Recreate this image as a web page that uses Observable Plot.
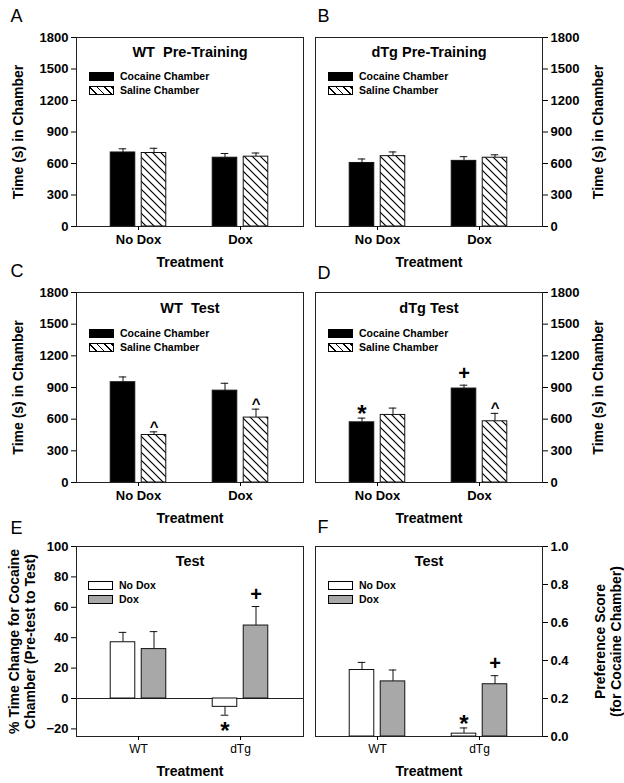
<!DOCTYPE html>
<html><head><meta charset="utf-8">
<script src="https://cdn.jsdelivr.net/npm/d3@7"></script>
<script src="https://cdn.jsdelivr.net/npm/@observablehq/plot@0.6"></script>
<style>
body{margin:0;background:#fff;}
#root{position:relative;width:624px;height:783px;font-family:"Liberation Sans",Arial,sans-serif;background:#fff;overflow:hidden;}
.panel{position:absolute;}
.legend{position:absolute;font-weight:bold;font-size:10.5px;color:#000;line-height:1;}
.legend .row{display:flex;align-items:center;height:14px;}
.sw{width:25px;height:9px;border:1px solid #000;margin-right:6px;box-sizing:border-box;}
.sw.hatch{background:repeating-linear-gradient(45deg,#fff 0px,#fff 4px,#000 4px,#000 5.2px);}
</style></head><body><div id="root"></div><script>
// ---------- data ----------
const treatments = ["No Dox", "Dox"];
const genotypes = ["WT", "dTg"];
const timeTicks = [0, 300, 600, 900, 1200, 1500, 1800];
const pctTicks = [-20, 0, 20, 40, 60, 80, 100];
const prefTicks = [0, 0.2, 0.4, 0.6, 0.8, 1.0];
const chamberLegend = ["Cocaine Chamber", "Saline Chamber"];
const doxLegend = ["No Dox", "Dox"];

// A: WT Pre-Training
const aCocaine = [705, 655], aCocaineSem = [35, 40];
const aSaline = [700, 665], aSalineSem = [45, 35];
// B: dTg Pre-Training
const bCocaine = [605, 625], bCocaineSem = [38, 40];
const bSaline = [670, 655], bSalineSem = [40, 28];
// C: WT Test
const cCocaine = [950, 870], cCocaineSem = [50, 70];
const cSaline = [450, 615], cSalineSem = [30, 80];
// D: dTg Test
const dCocaine = [570, 890], dCocaineSem = [40, 32];
const dSaline = [640, 580], dSalineSem = [65, 75];
// E: % time change (Test)
const eNoDox = [37, -5.5], eNoDoxSem = [6.5, 5.5];
const eDox = [32.5, 48], eDoxSem = [11.5, 12.5];
// F: preference score (Test)
const fNoDox = [0.35, 0.015], fNoDoxSem = [0.04, 0.03];
const fDox = [0.29, 0.275], fDoxSem = [0.06, 0.045];

// significance marks: [series index, category, symbol]
const cMarks = [[1, "No Dox", "^"], [1, "Dox", "^"]];
const dMarks = [[0, "No Dox", "*"], [0, "Dox", "+"], [1, "Dox", "^"]];
const eMarks = [[0, "dTg", "*"], [1, "dTg", "+"]];
const fMarks = [[0, "dTg", "*"], [1, "dTg", "+"]];

// ---------- drawing ----------
const root = document.getElementById("root");
const FONT = "Liberation Sans, Arial, sans-serif";
const FRAMEW = 227, PAD = 0.215;
const BW = FRAMEW / (2 - PAD + 2 * PAD) * (1 - PAD);
const CENTERS = [BW / 2 - 15.5, BW / 2 + 15.5];
const symStyle = {"^": {fontSize: 15, up: -5, down: 12}, "*": {fontSize: 24, up: -4, down: 16}, "+": {fontSize: 20, up: -12, down: 12}};

function panel(cfg) {
  const pid = "hatch-" + cfg.letter;
  const marks = [];
  if (cfg.zero) marks.push(Plot.ruleY([0], {stroke: "#222"}));
  const tables = cfg.series.map((s) => cfg.cats.map((c, j) => ({
    cat: c, v: s.values[j], tip: s.values[j] + (s.values[j] < 0 ? -1 : 1) * s.errs[j]
  })));
  cfg.series.forEach((s, i) => {
    const rows = tables[i], c = CENTERS[i];
    const fill = s.fill === "hatch" ? `url(#${pid})` : s.fill;
    marks.push(Plot.ruleX(rows, {x: "cat", y1: "v", y2: "tip", dx: c - BW / 2, stroke: "#111", strokeWidth: 1}));
    marks.push(Plot.tickY(rows, {x: "cat", y: "tip", insetLeft: c - 4, insetRight: BW - c - 4, stroke: "#111", strokeWidth: 1}));
    marks.push(Plot.barY(rows, {x: "cat", y: "v", fill, stroke: "#111", strokeWidth: 1, insetLeft: c - 12.5, insetRight: BW - c - 12.5}));
  });
  (cfg.sig || []).forEach(([si, cat, sym]) => {
    const row = tables[si].find((r) => r.cat === cat);
    const st = symStyle[sym];
    marks.push(Plot.text([row], {x: "cat", y: "tip", text: () => sym, dx: CENTERS[si] - BW / 2,
      dy: row.v < 0 ? st.down : st.up, fontSize: st.fontSize, fontWeight: "bold", lineAnchor: "middle"}));
  });
  marks.push(Plot.frame({stroke: "#222", strokeWidth: 1}));
  marks.push(Plot.axisY({anchor: cfg.side, ticks: cfg.yTicks, tickFormat: cfg.fmt, tickSize: 5, tickPadding: 3, label: null, fontSize: 13, fontWeight: "bold"}));
  marks.push(Plot.axisX({anchor: "bottom", tickSize: 4, tickPadding: 4, label: null, fontSize: cfg.xFontSize || 13, fontWeight: cfg.xWeight || "bold"}));
  marks.push(Plot.text([cfg.title], {text: (d) => d, frameAnchor: "top", dy: cfg.titleDy, lineAnchor: "middle", fontSize: 14.5, fontWeight: "bold"}));
  marks.push(Plot.text([cfg.letter], {text: (d) => d, frameAnchor: "top-left", dx: cfg.letterDx, dy: cfg.letterDy, textAnchor: "start", lineAnchor: "middle", fontSize: 18, fontWeight: "normal"}));
  marks.push(Plot.text(["Treatment"], {text: (d) => d, frameAnchor: "bottom", dy: cfg.xLabelDy, lineAnchor: "middle", fontSize: 14, fontWeight: "bold"}));
  marks.push(Plot.text([cfg.yLabel], {text: (d) => d, frameAnchor: cfg.side, dx: cfg.yLabelDx, rotate: -90, textAnchor: "middle", lineAnchor: "middle", lineHeight: 1.15, fontSize: 14, fontWeight: "bold"}));

  const left = cfg.side === "left";
  const svg = Plot.plot({
    width: 312, height: cfg.height,
    marginTop: cfg.mt, marginBottom: cfg.height - cfg.mt - cfg.frameH,
    marginLeft: left ? 76 : 3, marginRight: left ? 9 : 82,
    x: {type: "band", domain: cfg.cats, padding: PAD},
    y: {domain: cfg.yDomain},
    style: {fontFamily: FONT, fontSize: "13px", fontWeight: "bold", background: "transparent", overflow: "visible", color: "#000"},
    marks
  });
  const defs = d3.select(svg).insert("defs", ":first-child");
  const pat = defs.append("pattern").attr("id", pid).attr("patternUnits", "userSpaceOnUse").attr("width", 8).attr("height", 8);
  pat.append("rect").attr("width", 8).attr("height", 8).attr("fill", "#fff");
  pat.append("path").attr("d", "M-1,-1L9,9M-1,7L1,9M7,-1L9,1").attr("stroke", "#000").attr("stroke-width", 1.2);
  const wrap = document.createElement("div");
  wrap.className = "panel";
  wrap.style.left = cfg.left + "px";
  wrap.style.top = cfg.top + "px";
  wrap.appendChild(svg);
  root.appendChild(wrap);

  // legend
  const lg = document.createElement("div");
  lg.className = "legend";
  lg.style.left = cfg.legend.x + "px";
  lg.style.top = cfg.legend.y + "px";
  cfg.legend.labels.forEach((lab, i) => {
    const row = document.createElement("div");
    row.className = "row";
    const sw = document.createElement("div");
    const f = cfg.series[i].fill;
    sw.className = "sw" + (f === "hatch" ? " hatch" : "");
    if (f !== "hatch") sw.style.background = f;
    const t = document.createElement("span");
    t.textContent = lab;
    row.appendChild(sw); row.appendChild(t);
    lg.appendChild(row);
  });
  root.appendChild(lg);
}

const timeLabel = "Time (s) in Chamber";
const fmtInt = d3.format("d");
const fmt1 = d3.format(".1f");

panel({letter: "A", left: 0, top: 0, height: 270, mt: 37, frameH: 189, side: "left", cats: treatments,
  yDomain: [0, 1800], yTicks: timeTicks, fmt: fmtInt, title: "WT\u00a0 Pre-Training", titleDy: 15,
  letterDx: -66, letterDy: -21, xLabelDy: 36, yLabel: timeLabel, yLabelDx: -59,
  series: [{values: aCocaine, errs: aCocaineSem, fill: "#000"}, {values: aSaline, errs: aSalineSem, fill: "hatch"}],
  legend: {x: 89, y: 69, labels: chamberLegend}});

panel({letter: "B", left: 312, top: 0, height: 270, mt: 37, frameH: 189, side: "right", cats: treatments,
  yDomain: [0, 1800], yTicks: timeTicks, fmt: fmtInt, title: "dTg Pre-Training", titleDy: 15,
  letterDx: 2, letterDy: -21, xLabelDy: 36, yLabel: timeLabel, yLabelDx: 55,
  series: [{values: bCocaine, errs: bCocaineSem, fill: "#000"}, {values: bSaline, errs: bSalineSem, fill: "hatch"}],
  legend: {x: 328, y: 69, labels: chamberLegend}});

panel({letter: "C", left: 0, top: 255, height: 270, mt: 37, frameH: 190, side: "left", cats: treatments,
  yDomain: [0, 1800], yTicks: timeTicks, fmt: fmtInt, title: "WT\u00a0 Test", titleDy: 16,
  letterDx: -66, letterDy: -21, xLabelDy: 36, yLabel: timeLabel, yLabelDx: -59,
  series: [{values: cCocaine, errs: cCocaineSem, fill: "#000"}, {values: cSaline, errs: cSalineSem, fill: "hatch"}],
  sig: cMarks, legend: {x: 89, y: 326, labels: chamberLegend}});

panel({letter: "D", left: 312, top: 255, height: 270, mt: 37, frameH: 190, side: "right", cats: treatments,
  yDomain: [0, 1800], yTicks: timeTicks, fmt: fmtInt, title: "dTg Test", titleDy: 16,
  letterDx: 2, letterDy: -19, xLabelDy: 36, yLabel: timeLabel, yLabelDx: 55,
  series: [{values: dCocaine, errs: dCocaineSem, fill: "#000"}, {values: dSaline, errs: dSalineSem, fill: "hatch"}],
  sig: dMarks, legend: {x: 328, y: 326, labels: chamberLegend}});

panel({letter: "E", left: 0, top: 510, height: 273, mt: 36, frameH: 190, side: "left", cats: genotypes,
  yDomain: [-25, 100], yTicks: pctTicks, fmt: fmtInt, title: "Test", titleDy: 15, zero: true,
  letterDx: -66, letterDy: -18, xLabelDy: 35, xWeight: "normal", xFontSize: 12,
  yLabel: "% Time Change for Cocaine\nChamber (Pre-test to Test)", yLabelDx: -55,
  series: [{values: eNoDox, errs: eNoDoxSem, fill: "#fff"}, {values: eDox, errs: eDoxSem, fill: "#a8a8a8"}],
  sig: eMarks, legend: {x: 88, y: 578, labels: doxLegend}});

panel({letter: "F", left: 312, top: 510, height: 273, mt: 36, frameH: 190, side: "right", cats: genotypes,
  yDomain: [0, 1], yTicks: prefTicks, fmt: fmt1, title: "Test", titleDy: 15,
  letterDx: 2, letterDy: -19, xLabelDy: 35, xWeight: "normal", xFontSize: 12,
  yLabel: "Preference Score\n(for Cocaine Chamber)", yLabelDx: 65,
  series: [{values: fNoDox, errs: fNoDoxSem, fill: "#fff"}, {values: fDox, errs: fDoxSem, fill: "#a8a8a8"}],
  sig: fMarks, legend: {x: 328, y: 578, labels: doxLegend}});
</script></body></html>
